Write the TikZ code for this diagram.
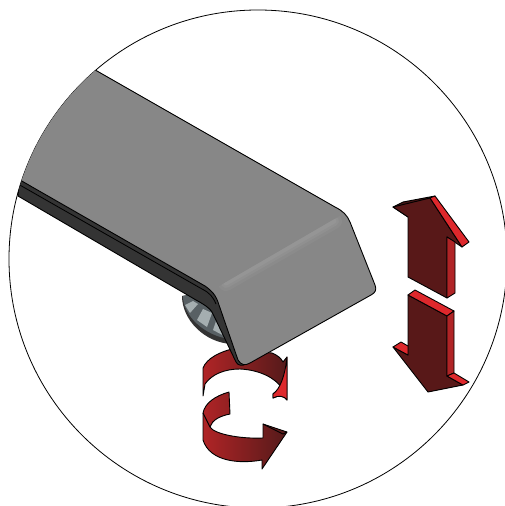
\documentclass[tikz,border=0pt]{standalone}
\usepackage{xcolor}
\definecolor{plategray}{RGB}{135,135,135}
\definecolor{edgedark}{RGB}{52,52,52}
\definecolor{arrowface}{RGB}{88,24,24}
\definecolor{arrowbevel}{RGB}{222,40,44}
\definecolor{ringlight}{RGB}{176,36,38}
\definecolor{ringdark}{RGB}{84,26,26}
\definecolor{hubdark}{RGB}{88,96,100}
\definecolor{hublight}{RGB}{165,174,176}
\tikzset{
    outline/.style={draw=black, line width=0.9pt, line join=round},
    face/.style={outline, fill=arrowface},
    bevel/.style={outline, fill=arrowbevel},
    ring/.style={outline, left color=ringlight, right color=ringdark},
    spoke/.style={fill=hublight},
}

\begin{document}
\begin{tikzpicture}[x=1pt, y=-1pt]
    \useasboundingbox (0,0) rectangle (505,506);

    % detail circle
    \draw[line width=0.8pt] (258,259) circle [radius=249];

    % up arrow
    \draw[face, fill=ringdark!85!black] (393,207) -- (403,202) -- (435,196) -- (430,198) -- (408,217) -- cycle;
    \draw[face] (393,207) -- (430,198) -- (462,247) -- (447,237) -- (447,298) -- (408,277) -- (408,217) -- cycle;
    \draw[bevel] (430,198) -- (435,196) -- (469,242) -- (462,247) -- cycle;
    \draw[face, fill=ringlight] (447,237) -- (455,242) -- (455,293) -- (447,298) -- cycle;

    % down arrow
    \draw[face] (408,295) -- (447,316) -- (447,376) -- (463,385) -- (428,392) -- (393,347) -- (408,355) -- cycle;
    \draw[bevel] (408,295) -- (415,290) -- (454,311) -- (447,316) -- cycle;
    \draw[face, fill=ringlight] (447,316) -- (454,311) -- (454,373) -- (447,376) -- cycle;
    \draw[bevel] (447,376) -- (454,373) -- (469,382) -- (463,385) -- cycle;
    \draw[bevel] (393,347) -- (401,342) -- (408,346) -- (408,355) -- cycle;

    % upper rotation arrow
    \draw[ring] (203,396) -- (203,368) .. controls (207,358) and (220,352) .. (232,349)
        -- (272,353) .. controls (277,355) and (281,358) .. (283,362) -- (287,357) -- (287,400)
        .. controls (285,396) and (278,395) .. (273,398) -- (273,394)
        .. controls (277,390) and (280,389) .. (282,388)
        .. controls (275,378) and (260,370) .. (240,369)
        .. controls (225,369) and (212,374) .. (205,384) -- cycle;
    \draw[bevel] (287,357) -- (287,400) .. controls (285,396) and (278,395) .. (273,398) -- (273,394)
        .. controls (280,389) and (285,376) .. cycle;

    % lower rotation arrow
    \draw[ring] (229,392) -- (230,414) .. controls (220,416) and (212,420) .. (210,427)
        .. controls (214,434) and (240,439) .. (263,438) -- (263,424) -- (287,432) -- (262,469) -- (262,460)
        .. controls (240,464) and (210,462) .. (203,440) -- (203,413)
        .. controls (205,403) and (215,396) .. cycle;
    \draw[outline] (210,427) -- (203,413);
    \draw[outline] (263,424) -- (283,434) -- (287,432);

    % hub under the plate
    \fill[black!80] (182,296) .. controls (182,320) and (205,343) .. (232,344) -- (225,288) -- cycle;
    \fill[hubdark] (183,296) .. controls (183,316) and (205,336) .. (230,339) -- (225,288) -- cycle;
    \fill[spoke] (185,305) -- (193,301) -- (198,304) -- (190,313) -- cycle;
    \fill[spoke] (197,320) -- (203,309) -- (212,313) -- (207,327) -- cycle;
    \fill[spoke] (213,330) -- (218,315) -- (225,320) -- (228,338) -- cycle;

    % plate, cut by the circle
    \begin{scope}
        \clip (258,259) circle [radius=249];
        \draw[outline, fill=edgedark] (18,196) -- (196,300)
            .. controls (207,306) and (212,310) .. (214,316) -- (236,362)
            .. controls (238,366) and (243,366) .. (246,364) -- (225,300)
            .. controls (222,290) and (215,286) .. (207,283) -- (20,175) -- cycle;
        \draw[line width=0.8pt] (18,184) -- (202,289) .. controls (210,293) and (213,297) .. (216,304);
        \draw[outline, fill=plategray] (90,67) -- (335,207)
            .. controls (343,211) and (347,215) .. (350,222) -- (375,285)
            .. controls (377,290) and (375,293) .. (371,295) -- (250,363)
            .. controls (245,366) and (241,365) .. (238,360) -- (219,305)
            .. controls (216,295) and (212,291) .. (205,286) -- (20,180) -- (0,100) -- cycle;
        \begin{scope}
            \clip (345,213) -- (371,295) -- (250,363) -- (222,300) -- (216,288) -- cycle;
            \foreach \wd/\col in {16/139, 10/144, 5/149}{
                \definecolor{bendcol}{RGB}{\col,\col,\col}
                \draw[bendcol, line width=\wd pt, line cap=round] (226,283) -- (334,221);
            }
        \end{scope}
    \end{scope}
\end{tikzpicture}
\end{document}
